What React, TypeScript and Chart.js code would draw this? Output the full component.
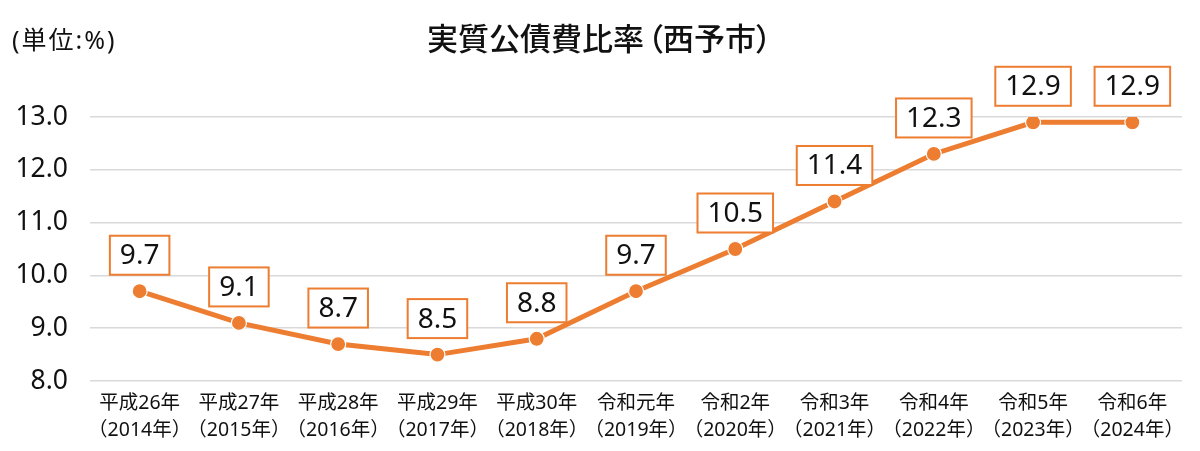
import React, { useEffect, useRef } from 'react';
import { Chart, registerables } from 'chart.js';

Chart.register(...registerables);

const titleMain = '実質公債費比率';
const titleSub = '西予市';
const unitText = '(単位:%)';
const categories: string[][] = [
  ['平成26年', '（2014年）'],
  ['平成27年', '（2015年）'],
  ['平成28年', '（2016年）'],
  ['平成29年', '（2017年）'],
  ['平成30年', '（2018年）'],
  ['令和元年', '（2019年）'],
  ['令和2年', '（2020年）'],
  ['令和3年', '（2021年）'],
  ['令和4年', '（2022年）'],
  ['令和5年', '（2023年）'],
  ['令和6年', '（2024年）'],
];
const values: number[] = [9.7, 9.1, 8.7, 8.5, 8.8, 9.7, 10.5, 11.4, 12.3, 12.9, 12.9];
const yMin = 8;
const yMax = 13;
const yStep = 1;

const ORANGE = '#ED7D31';
const CJK = '"Noto Sans CJK JP", sans-serif';
const LATIN = '"Noto Sans", "Noto Sans CJK JP", sans-serif';
const TEXT = '#111111';

const boxLabelPlugin = {
  id: 'boxLabels',
  afterDatasetsDraw(chart: any) {
    const ctx = chart.ctx;
    const meta = chart.getDatasetMeta(0);
    ctx.save();
    ctx.font = `28px ${LATIN}`;
    meta.data.forEach((pt: any, i: number) => {
      const text = values[i].toFixed(1);
      const w = ctx.measureText(text).width + 20;
      const h = 39;
      const cx = pt.x;
      const cy = pt.y - 36;
      ctx.fillStyle = '#ffffff';
      ctx.fillRect(cx - w / 2, cy - h / 2, w, h);
      ctx.strokeStyle = ORANGE;
      ctx.lineWidth = 2;
      ctx.strokeRect(cx - w / 2, cy - h / 2, w, h);
      ctx.fillStyle = TEXT;
      ctx.textAlign = 'center';
      ctx.textBaseline = 'middle';
      ctx.fillText(text, cx, cy + 1);
    });
    ctx.restore();
  },
};

const headerPlugin = {
  id: 'header',
  afterDraw(chart: any) {
    const ctx = chart.ctx;
    ctx.save();
    ctx.fillStyle = TEXT;
    ctx.textBaseline = 'middle';
    ctx.font = `500 31px ${CJK}`;
    const pw = 19;
    const w1 = ctx.measureText(titleMain).width;
    const w2 = ctx.measureText(titleSub).width;
    const total = w1 + pw + w2 + pw;
    let x = 601 - total / 2;
    const y = 38;
    ctx.textAlign = 'left';
    ctx.fillText(titleMain, x, y);
    x += w1;
    ctx.textAlign = 'right';
    ctx.fillText('（', x + pw + 1, y);
    x += pw;
    ctx.textAlign = 'left';
    ctx.fillText(titleSub, x, y);
    x += w2;
    ctx.fillText('）', x - 1, y);

    ctx.font = `25px ${LATIN}`;
    ctx.textAlign = 'left';
    (ctx as any).letterSpacing = '2px';
    ctx.fillText(unitText, 12, 42);
    ctx.restore();
  },
};

export default function App() {
  const canvasRef = useRef<HTMLCanvasElement | null>(null);

  useEffect(() => {
    if (!canvasRef.current) return;
    const chart = new Chart(canvasRef.current, {
      type: 'line',
      data: {
        labels: categories,
        datasets: [
          {
            data: values,
            borderColor: ORANGE,
            backgroundColor: ORANGE,
            borderWidth: 5,
            pointRadius: 7.5,
            pointHoverRadius: 7.5,
            pointBackgroundColor: ORANGE,
            pointBorderColor: '#ffffff',
            pointBorderWidth: 1.2,
            tension: 0,
          },
        ],
      },
      options: {
        animation: false,
        responsive: true,
        maintainAspectRatio: false,
        layout: { padding: { left: 12, right: 18, top: 117, bottom: 0 } },
        plugins: {
          legend: { display: false },
          title: { display: false },
          tooltip: { enabled: false },
        },
        scales: {
          x: {
            offset: true,
            afterFit: (scale: any) => {
              scale.height = 70;
            },
            grid: { display: false, drawTicks: false },
            border: { display: false },
            ticks: {
              color: TEXT,
              font: { family: LATIN, size: 19.5, lineHeight: 1.38 },
              padding: 9,
              maxRotation: 0,
              autoSkip: false,
            },
          },
          y: {
            min: yMin,
            max: yMax,
            afterFit: (scale: any) => {
              scale.width = 78;
            },
            grid: { color: '#d9d9d9', lineWidth: 1.5, drawTicks: false },
            border: { display: false },
            ticks: {
              stepSize: yStep,
              color: TEXT,
              font: { family: LATIN, size: 26.5 },
              padding: 22,
              callback: (v: any) => Number(v).toFixed(1),
            },
          },
        },
      },
      plugins: [boxLabelPlugin, headerPlugin],
    });
    return () => chart.destroy();
  }, []);

  return (
    <div style={{ position: 'absolute', left: 0, top: 0, width: 1200, height: 451, background: '#fff' }}>
      <canvas ref={canvasRef} />
    </div>
  );
}
